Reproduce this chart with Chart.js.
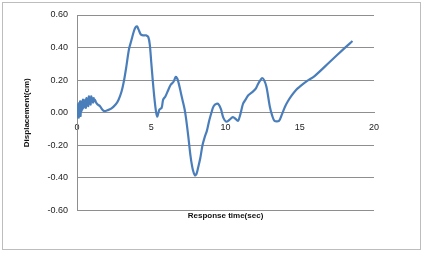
<!DOCTYPE html>
<html>
<head>
<meta charset="utf-8">
<script src="https://cdn.jsdelivr.net/npm/chart.js@4"></script>
<style>
  html, body { margin: 0; padding: 0; background: #fff; }
  #wrap { width: 426px; height: 253px; position: relative; }
</style>
</head>
<body>
<div id="wrap"><canvas id="dispChart" width="426" height="253"></canvas></div>
<script>
// Response time (sec)
const timeValues = [
  0.00, 0.03, 0.06, 0.09, 0.12, 0.15, 0.18, 0.21, 0.24, 0.27, 0.30, 0.33, 0.36, 0.40, 0.44, 0.48,
  0.52, 0.56, 0.60, 0.64, 0.68, 0.72, 0.76, 0.80, 0.84, 0.88, 0.92, 0.96, 1.00, 1.04, 1.08, 1.12,
  1.16, 1.20, 1.25, 1.30,
  1.40, 1.55, 1.70, 1.85, 2.05, 2.30, 2.60, 2.80, 3.00, 3.15, 3.30, 3.50, 3.65, 3.83, 3.95, 4.05,
  4.15, 4.30, 4.45, 4.65, 4.80, 4.90, 5.00, 5.10, 5.20, 5.30, 5.40, 5.55, 5.70, 5.80, 5.95, 6.10,
  6.30, 6.50, 6.65, 6.75, 6.85, 7.00, 7.10, 7.25, 7.35, 7.50, 7.65, 7.80, 7.95, 8.05, 8.15, 8.30,
  8.45, 8.60, 8.75, 8.90, 9.05, 9.20, 9.40, 9.55, 9.70, 9.85, 10.05, 10.25, 10.50, 10.70, 10.85,
  11.00, 11.18, 11.35, 11.52, 11.86, 12.05, 12.20, 12.35, 12.47, 12.60, 12.76, 12.99, 13.15,
  13.30, 13.60, 13.80, 14.00, 14.20, 14.46, 14.75, 15.00, 15.50, 16.00, 17.00, 18.00, 18.55
];

// Displacement (cm)
const dispValues = [
  0.01, 0.05, -0.03, 0.05, -0.03, 0.06, 0.00, 0.07, -0.02, 0.06, 0.01, 0.07, 0.02, 0.08, 0.03, 0.07,
  0.04, 0.08, 0.03, 0.09, 0.05, 0.08, 0.04, 0.10, 0.06, 0.09, 0.05, 0.10, 0.07, 0.09, 0.06, 0.09,
  0.07, 0.08, 0.07, 0.06,
  0.05, 0.04, 0.02, 0.01, 0.015, 0.025, 0.05, 0.08, 0.13, 0.19, 0.27, 0.39, 0.44, 0.50, 0.525, 0.53,
  0.51, 0.48, 0.475, 0.475, 0.465, 0.42, 0.31, 0.20, 0.10, 0.02, -0.025, 0.02, 0.03, 0.08, 0.10, 0.13,
  0.17, 0.19, 0.22, 0.21, 0.18, 0.12, 0.08, 0.02, -0.04, -0.15, -0.27, -0.35, -0.385, -0.375, -0.34, -0.28,
  -0.20, -0.15, -0.11, -0.05, 0.00, 0.04, 0.055, 0.05, 0.02, -0.03, -0.055, -0.045, -0.027, -0.04, -0.05,
  -0.01, 0.055, 0.08, 0.106, 0.131, 0.15, 0.178, 0.20, 0.213, 0.20, 0.158, 0.035, -0.02,
  -0.05, -0.05, -0.01, 0.035, 0.07, 0.106, 0.14, 0.16, 0.195, 0.225, 0.31, 0.395, 0.44
];

// Axis ticks
const xTicks = [0, 5, 10, 15, 20];
const yTicks = [-0.6, -0.4, -0.2, 0, 0.2, 0.4, 0.6];

const points = timeValues.map((t, i) => ({ x: t, y: dispValues[i] }));

// Thin grey frame round the whole chart, like the Excel chart border
const frame = {
  id: 'frame',
  beforeDraw(chart) {
    const c = chart.ctx;
    c.save();
    c.fillStyle = '#fff';
    c.fillRect(0, 0, chart.width, chart.height);
    c.strokeStyle = '#bdbdbd';
    c.lineWidth = 1;
    c.strokeRect(2.5, 2.5, 418, 247);
    c.restore();
  }
};

const tickFont = { family: 'Liberation Sans', size: 9 };
const titleFont = { family: 'Liberation Sans', size: 8, weight: 'bold' };

new Chart(document.getElementById('dispChart'), {
  type: 'scatter',
  data: {
    datasets: [{
      data: points,
      showLine: true,
      borderColor: '#4a7ebb',
      borderWidth: 2.2,
      pointRadius: 0,
      tension: 0.3
    }]
  },
  options: {
    responsive: false,
    animation: false,
    layout: { padding: { left: 22, right: 52, top: 15, bottom: 32 } },
    plugins: { legend: { display: false }, tooltip: { enabled: false } },
    scales: {
      x: {
        type: 'linear',
        min: 0, max: 20,
        position: { y: 0 },
        grid: { display: false, drawTicks: false },
        border: { display: true, color: '#8e8e8e' },
        afterBuildTicks: (s) => { s.ticks = xTicks.map(v => ({ value: v })); },
        ticks: { font: tickFont, color: '#222', padding: 9, maxRotation: 0 }
      },
      x2: {
        type: 'linear',
        axis: 'x',
        position: 'bottom',
        min: 0, max: 20,
        grid: { display: false, drawTicks: false },
        border: { display: false },
        ticks: { display: false },
        title: { display: true, text: 'Response time(sec)', font: titleFont, color: '#111', padding: { top: 1, bottom: 0 } }
      },
      y: {
        min: -0.6, max: 0.6,
        afterFit: (s) => { s.width = 55; },
        afterBuildTicks: (s) => { s.ticks = yTicks.map(v => ({ value: v })); },
        grid: { color: '#8e8e8e', drawTicks: false },
        border: { display: true, color: '#8e8e8e' },
        ticks: {
          font: tickFont, color: '#222', padding: 9,
          callback: (v) => v.toFixed(2)
        },
        title: { display: true, text: 'Displacement(cm)', font: titleFont, color: '#111', padding: { top: 0, bottom: 0 } }
      }
    }
  },
  plugins: [frame]
});
</script>
</body>
</html>
